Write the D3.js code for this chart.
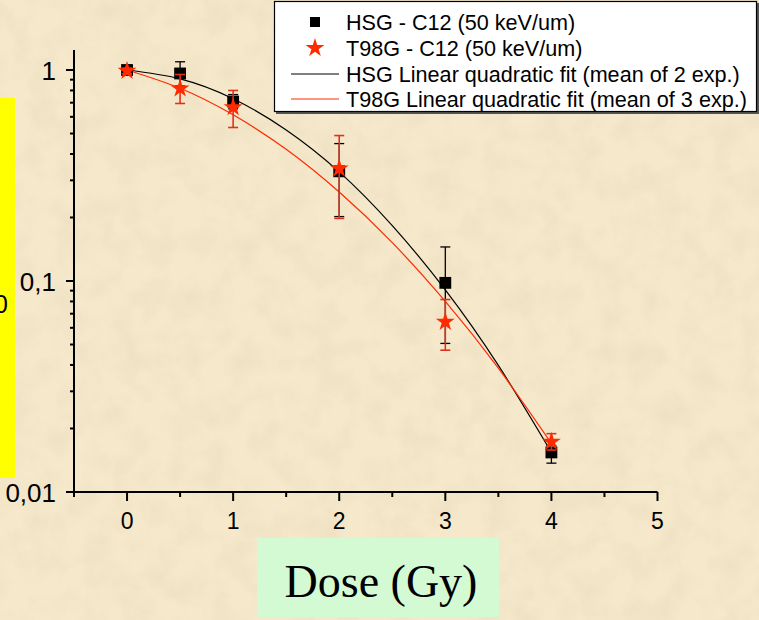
<!DOCTYPE html>
<html>
<head>
<meta charset="utf-8">
<script src="https://cdn.jsdelivr.net/npm/d3@7"></script>
<style>
  html, body { margin: 0; padding: 0; background: #f4e6c8; }
  svg { display: block; }
</style>
</head>
<body>
<svg id="chart" width="759" height="620"></svg>
<script>
// Surviving fraction vs dose, carbon ions (50 keV/um)
const doses = [0, 0.5, 1, 2, 3, 4];

const hsgSurv = [1.0, 0.963, 0.709, 0.331, 0.098, 0.0154];
const hsgHi   = [1.03, 1.094, 0.765, 0.448, 0.145, 0.0166];
const hsgLo   = [0.97, 0.84, 0.655, 0.202, 0.0506, 0.0137];

const t98Surv = [0.99, 0.817, 0.666, 0.341, 0.064, 0.0173];
const t98Hi   = [1.02, 0.952, 0.80, 0.489, 0.0817, 0.0189];
const t98Lo   = [0.96, 0.694, 0.534, 0.198, 0.047, 0.0158];

// Linear-quadratic fit curves, sampled every 0.5 Gy
const fitDoses = [0, 0.5, 1, 1.5, 2, 2.5, 3, 3.5, 4];
const hsgFit   = [1.0, 0.908, 0.731, 0.520, 0.329, 0.183, 0.0908, 0.0398, 0.0154];
const t98Fit   = [1.0, 0.819, 0.613, 0.421, 0.264, 0.152, 0.080, 0.0386, 0.0170];

const xTicks = [0, 1, 2, 3, 4, 5];
const xMinor = [-0.5, 0.5, 1.5, 2.5, 3.5, 4.5];
const yTicks = [1, 0.1, 0.01];
const yTickLabels = ["1", "0,1", "0,01"];

const legendLabels = [
  "HSG - C12 (50 keV/um)",
  "T98G - C12 (50 keV/um)",
  "HSG Linear quadratic fit (mean of 2 exp.)",
  "T98G Linear quadratic fit (mean of 3 exp.)"
];

const RED = "#ff2a00";
const svg = d3.select("#chart");

// parchment texture
const defs = svg.append("defs");
const f = defs.append("filter").attr("id", "paper").attr("x", 0).attr("y", 0)
  .attr("width", "100%").attr("height", "100%");
f.append("feTurbulence").attr("type", "fractalNoise").attr("baseFrequency", "0.035")
  .attr("numOctaves", 4).attr("seed", 7).attr("result", "n");
f.append("feColorMatrix").attr("in", "n").attr("type", "matrix")
  .attr("values", "0 0 0 0 0.62  0 0 0 0 0.50  0 0 0 0 0.32  0 0 0 -0.9 0.55");
svg.append("rect").attr("width", 759).attr("height", 620).attr("fill", "#f5e8cb");
svg.append("rect").attr("width", 759).attr("height", 620).attr("filter", "url(#paper)").attr("opacity", 0.35);

// yellow side panel with its label running off the left edge
svg.append("rect").attr("x", 0).attr("y", 98).attr("width", 15).attr("height", 380).attr("fill", "#ffff00");
svg.append("text").attr("x", 8).attr("y", 313).attr("text-anchor", "end")
  .attr("font-family", "'Liberation Sans', Arial, sans-serif").attr("font-size", 25).text("0");

const x = d3.scaleLinear().domain([-0.5, 5]).range([74, 657.5]);
const y = d3.scaleLog().domain([0.01, 1.244]).range([492, 50]);

// axes
const font = "'Liberation Sans', Arial, sans-serif";
const ax = svg.append("g").attr("stroke", "#000").attr("stroke-width", 2).attr("fill", "none");
ax.append("line").attr("x1", 74).attr("x2", 74).attr("y1", 50).attr("y2", 492);
ax.append("line").attr("x1", 73).attr("x2", x(5)).attr("y1", 492).attr("y2", 492);

const yMinor = [];
[0.01, 0.1].forEach(d => { for (let k = 2; k <= 9; k++) yMinor.push(d * k); });
ax.selectAll(".ymaj").data(yTicks).join("line")
  .attr("x1", 66).attr("x2", 74).attr("y1", d => y(d)).attr("y2", d => y(d));
ax.selectAll(".ymin").data(yMinor).join("line")
  .attr("x1", 70).attr("x2", 74).attr("y1", d => y(d)).attr("y2", d => y(d));
ax.selectAll(".xmaj").data(xTicks).join("line")
  .attr("x1", d => x(d)).attr("x2", d => x(d)).attr("y1", 492).attr("y2", 501);
ax.selectAll(".xmin").data(xMinor).join("line")
  .attr("x1", d => x(d)).attr("x2", d => x(d)).attr("y1", 492).attr("y2", 497);

svg.selectAll(".ylab").data(yTicks).join("text")
  .attr("x", 56).attr("y", d => y(d) + 9.5).attr("text-anchor", "end")
  .attr("font-family", font).attr("font-size", 26).text((d, i) => yTickLabels[i]);
svg.selectAll(".xlab").data(xTicks).join("text")
  .attr("x", d => x(d)).attr("y", 529).attr("text-anchor", "middle")
  .attr("font-family", font).attr("font-size", 23).text(d => d);

// x-axis title box
svg.append("rect").attr("x", 257).attr("y", 538).attr("width", 242).attr("height", 79).attr("fill", "#d4fad4");
svg.append("text").attr("x", 381).attr("y", 597).attr("text-anchor", "middle")
  .attr("font-family", "'Liberation Serif', 'Times New Roman', serif").attr("font-size", 46).text("Dose (Gy)");

// fit curves
const line = d3.line().x((d, i) => x(fitDoses[i])).y(d => y(d)).curve(d3.curveNatural);
svg.append("path").attr("d", line(hsgFit)).attr("fill", "none").attr("stroke", "#000").attr("stroke-width", 1.2);
svg.append("path").attr("d", line(t98Fit)).attr("fill", "none").attr("stroke", RED).attr("stroke-width", 1.2);

function errorBars(hi, lo, color, w) {
  const g = svg.append("g").attr("stroke", color).attr("stroke-width", w);
  g.selectAll(".v").data(doses).join("line")
    .attr("x1", d => x(d)).attr("x2", d => x(d))
    .attr("y1", (d, i) => y(hi[i])).attr("y2", (d, i) => y(lo[i]));
  g.selectAll(".t").data(doses).join("line")
    .attr("x1", d => x(d) - 5).attr("x2", d => x(d) + 5)
    .attr("y1", (d, i) => y(hi[i])).attr("y2", (d, i) => y(hi[i]));
  g.selectAll(".b").data(doses).join("line")
    .attr("x1", d => x(d) - 5).attr("x2", d => x(d) + 5)
    .attr("y1", (d, i) => y(lo[i])).attr("y2", (d, i) => y(lo[i]));
}

errorBars(hsgHi, hsgLo, "#000", 1.3);
const square = d3.symbol().type(d3.symbolSquare).size(140);
const star = d3.symbol().type(d3.symbolStar).size(110);
svg.selectAll(".sq").data(doses).join("path")
  .attr("d", square).attr("fill", "#000")
  .attr("transform", (d, i) => `translate(${x(d)},${y(hsgSurv[i])})`);
errorBars(t98Hi, t98Lo, "#e0321a", 1.6);
svg.selectAll(".st").data(doses).join("path")
  .attr("d", star).attr("fill", RED)
  .attr("transform", (d, i) => `translate(${x(d)},${y(t98Surv[i])})`);

// legend
const lg = svg.append("g");
lg.append("rect").attr("x", 276).attr("y", 3).attr("width", 484).attr("height", 111)
  .attr("fill", "#555");
lg.append("rect").attr("x", 274.5).attr("y", 1.5).attr("width", 482).attr("height", 110)
  .attr("fill", "#fff").attr("stroke", "#000").attr("stroke-width", 1.2);
const rowY = [22, 48, 74, 99];
lg.append("path").attr("d", d3.symbol().type(d3.symbolSquare).size(100)).attr("fill", "#000")
  .attr("transform", `translate(315,${rowY[0]})`);
lg.append("path").attr("d", d3.symbol().type(d3.symbolStar).size(110)).attr("fill", RED)
  .attr("transform", `translate(315,${rowY[1]})`);
lg.append("line").attr("x1", 291).attr("x2", 339).attr("y1", rowY[2]).attr("y2", rowY[2]).attr("stroke", "#000").attr("stroke-width", 1.2);
lg.append("line").attr("x1", 291).attr("x2", 339).attr("y1", rowY[3]).attr("y2", rowY[3]).attr("stroke", RED).attr("stroke-width", 1.2);
lg.selectAll(".lt").data(legendLabels).join("text")
  .attr("x", 346).attr("y", (d, i) => rowY[i] + 7.5)
  .attr("font-family", font).attr("font-size", 21.6).text(d => d);
</script>
</body>
</html>
